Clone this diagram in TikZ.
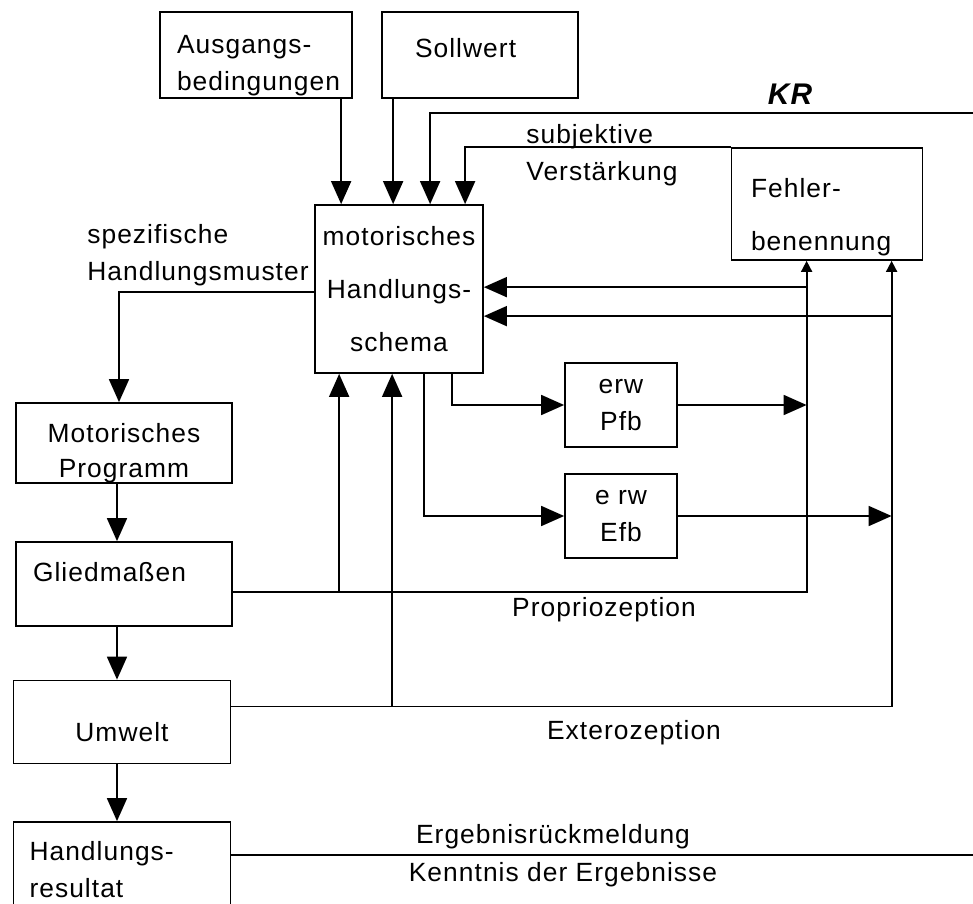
\documentclass[tikz,border=0pt]{standalone}
\usepackage{fontspec}
\setmainfont{Liberation Sans}[LetterSpace=4]
\usetikzlibrary{arrows.meta, positioning, calc}

\begin{document}
\begin{tikzpicture}[
    x=0.02cm, y=-0.02cm,
    font=\fontsize{15}{21}\selectfont,
    blk/.style={draw, line width=1pt, inner sep=0pt, align=center},
    lblk/.style={blk, align=left, inner xsep=0.34cm},
    lbl/.style={inner sep=0pt, align=left},
    arr/.style={-{Triangle[length=0.46cm, width=0.4cm]}, line width=1pt},
    sarr/.style={-{Triangle[length=0.22cm, width=0.22cm]}, line width=1pt},
    ln/.style={line width=1pt}
]
\useasboundingbox (0,0) rectangle (973,903);

% boxes
\node[lblk, minimum width=3.84cm, minimum height=1.72cm, text width=3.16cm]
     (ausg) at (256,55) {\rule{0pt}{0.8cm}Ausgangs-\\bedingungen};
\node[lblk, minimum width=3.92cm, minimum height=1.72cm, text width=2.6cm,
      inner xsep=0.66cm, text depth=0.3cm] (soll) at (480,55) {Sollwert};
\node[blk, minimum width=3.36cm, minimum height=3.36cm,
      font=\fontsize{15}{30}\selectfont]
     (schema) at (399,289) {motorisches\\Handlungs-\\schema};
\node[lblk, minimum width=3.82cm, minimum height=2.24cm, text width=3.04cm,
      inner xsep=0.39cm, font=\fontsize{15}{30}\selectfont]
     (fehler) at (827,204) {\rule{0pt}{0.91cm}Fehler-\\benennung};
\node[blk, minimum width=2.24cm, minimum height=1.68cm] (pfb) at (621,405) {erw\\Pfb};
\node[blk, minimum width=2.24cm, minimum height=1.68cm] (efb) at (621,516) {e rw\\Efb};

\node[blk, minimum width=4.32cm, minimum height=1.6cm,
      font=\fontsize{15}{20}\selectfont] (mp) at (124,443)
     {\rule{0pt}{0.78cm}Motorisches\\Programm};
\node[lblk, minimum width=4.32cm, minimum height=1.68cm, text width=3.64cm,
      text depth=0.5cm] (glied) at (124,584) {Gliedmaßen};
\node[blk, minimum width=4.34cm, minimum height=1.66cm,
      text height=0.8cm] (umwelt) at (122,722) {Umwelt};
\node[lblk, minimum width=4.34cm, minimum height=1.92cm, text width=3.7cm,
      inner xsep=0.32cm] (res) at (122,870) {Handlungs-\\resultat};

% labels
\node[lbl, anchor=west] (spez) at (87,255) {spezifische\\Handlungsmuster};
\node[lbl, anchor=west] (subj) at (526,155) {subjektive\\Verstärkung};
\node[lbl, font=\fontsize{17}{17}\bfseries\itshape] (krlbl) at (790,94) {KR};
\node[lbl] (prop) at (604,610) {Propriozeption};
\node[lbl] (exter) at (634,733) {Exterozeption};
\node[lbl] (ergeb) at (553,837) {Ergebnisrückmeldung};
\node[lbl] (kennt) at (563,875) {Kenntnis der Ergebnisse};

% ports
\coordinate (s1) at ([xshift=0.54cm]schema.north west);
\coordinate (s2) at ([xshift=1.58cm]schema.north west);
\coordinate (s3) at ([xshift=2.32cm]schema.north west);
\coordinate (s4) at ([xshift=3.02cm]schema.north west);
\coordinate (b1) at ([xshift=0.5cm]schema.south west);
\coordinate (b2) at ([xshift=1.56cm]schema.south west);
\coordinate (b3) at ([xshift=2.2cm]schema.south west);
\coordinate (b4) at ([xshift=2.76cm]schema.south west);
\coordinate (r1) at ([yshift=-1.66cm]schema.north east);
\coordinate (r2) at ([yshift=-2.24cm]schema.north east);
\coordinate (sl) at ([yshift=-1.76cm]schema.north west);
\coordinate (f1) at ([xshift=1.52cm]fehler.south west);
\coordinate (f2) at ([xshift=3.22cm]fehler.south west);
\coordinate (gp) at ([yshift=-0.16cm]glied.east);
\coordinate (ue) at ([yshift=0.31cm]umwelt.east);
\coordinate (re) at ([yshift=0.3cm]res.east);
\coordinate (kr) at (973,113);

% connectors
\draw[arr] (ausg.south -| s1) -- (s1);
\draw[arr] (soll.south -| s2) -- (s2);
\draw[arr] (kr) -| (s3);
\draw[arr] (fehler.north west) -| (s4);

\draw[arr] (sl) -| ([xshift=-0.1cm]mp.north);
\draw[arr] ([xshift=-0.14cm]mp.south) -- ([xshift=-0.14cm]glied.north);
\draw[arr] ([xshift=-0.14cm]glied.south) -- ([xshift=-0.1cm]umwelt.north);
\draw[arr] ([xshift=-0.1cm]umwelt.south) -- ([xshift=-0.1cm]res.north);

\draw[arr] (b4) |- (pfb.west);
\draw[arr] (b3) |- (efb.west);
\draw[arr] (pfb.east) -- (pfb.east -| f1);
\draw[arr] (efb.east) -- (efb.east -| f2);

% Propriozeption
\draw[sarr] (gp) -| (f1);
\draw[arr] (gp -| b1) -- (b1);
\draw[arr] (f1 |- r1) -- (r1);

% Exterozeption
\draw[sarr] (ue) -| (f2);
\draw[arr] (ue -| b2) -- (b2);
\draw[arr] (f2 |- r2) -- (r2);

% Ergebnisrueckmeldung
\draw[ln] (re) -- (re -| kr);
\end{tikzpicture}
\end{document}
